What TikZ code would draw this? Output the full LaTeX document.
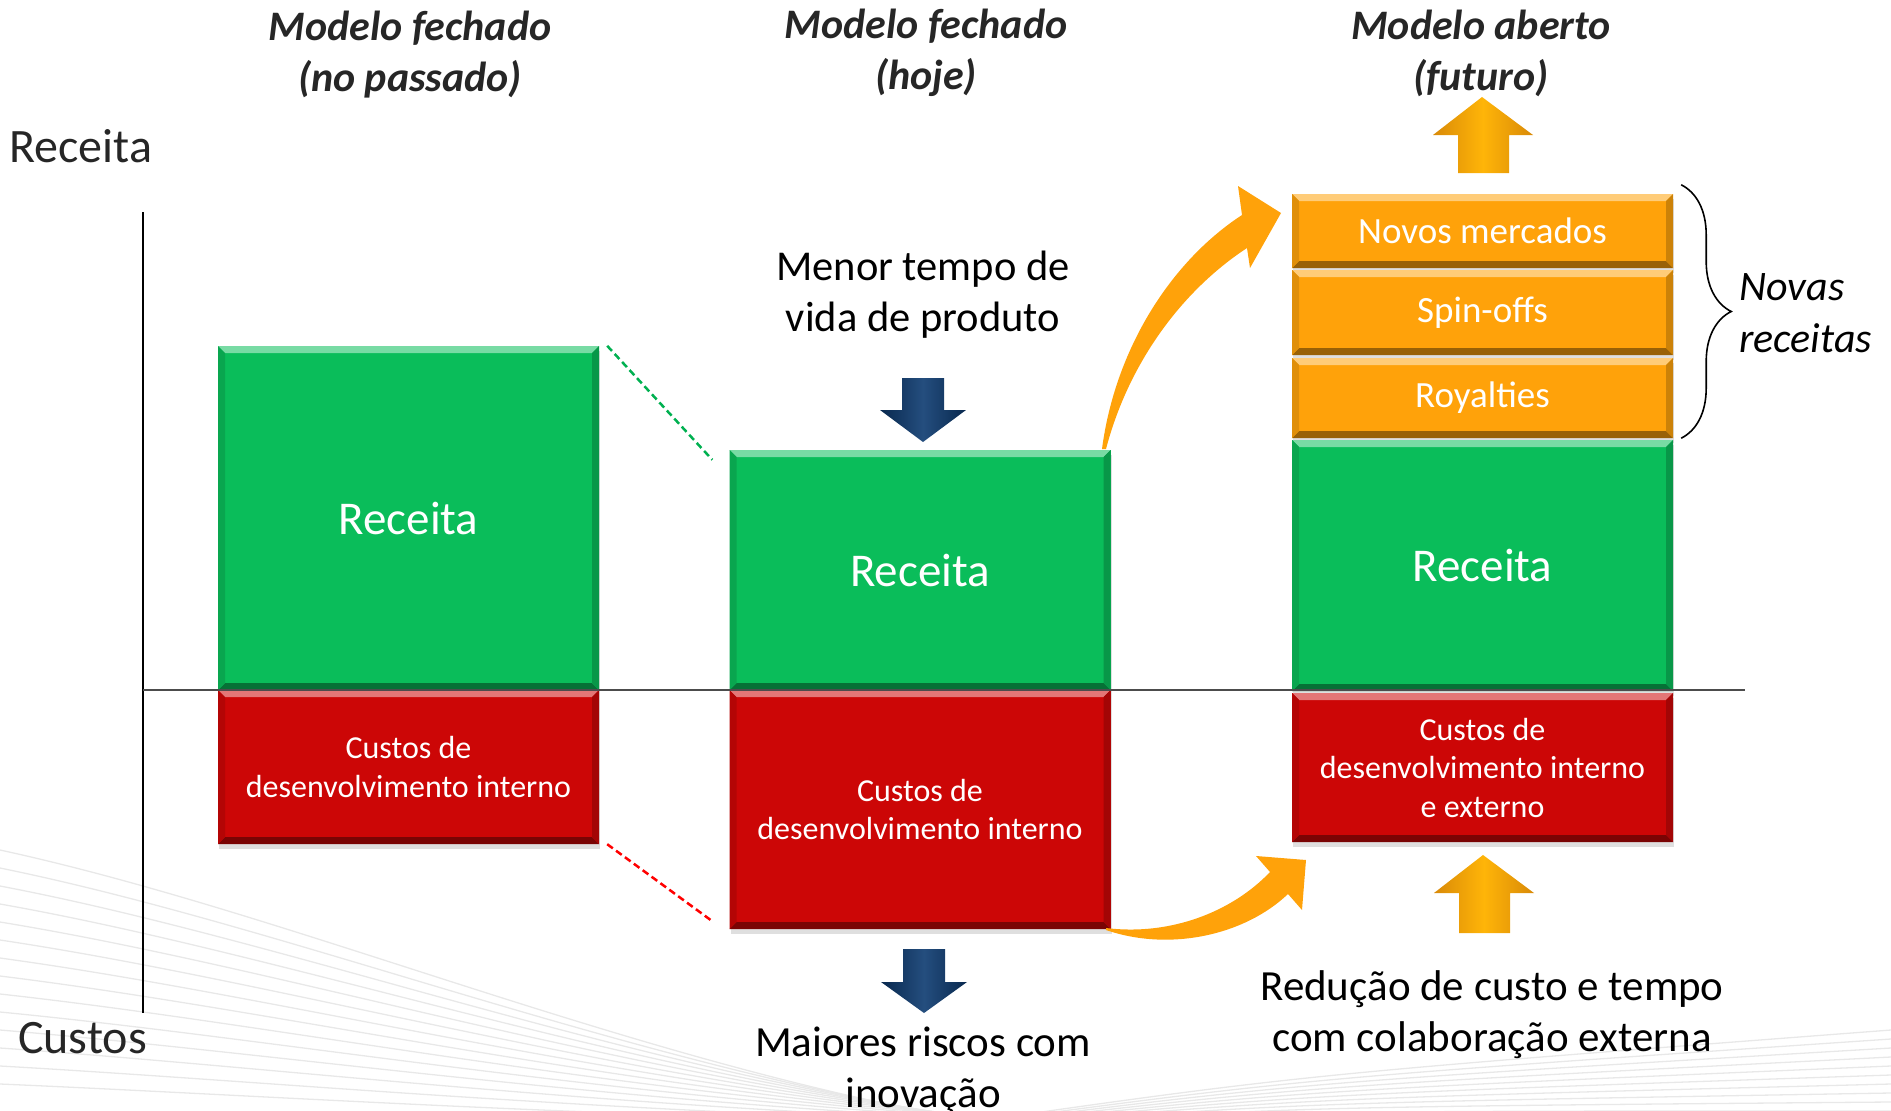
\documentclass[tikz,border=0pt]{standalone}
\usepackage{fontspec}
\setmainfont{Carlito}
\usetikzlibrary{shadows,decorations.pathreplacing}
\definecolor{gr}{HTML}{0ABD5A}
\definecolor{rd}{HTML}{CC0606}
\definecolor{og}{HTML}{FFA20A}
\definecolor{nv}{HTML}{0C3A70}
\definecolor{ttlc}{HTML}{262626}
\definecolor{dgreen}{HTML}{00B050}
\definecolor{dred}{HTML}{FF0000}
\tikzset{
  bev/.style={draw=none, inner sep=0pt, minimum width=381pt, align=center, text=white,
    fill=#1,
    drop shadow={shadow xshift=1pt, shadow yshift=-5pt, opacity=0.25},
    path picture={
      \fill[#1!55!white] (path picture bounding box.north west) -- (path picture bounding box.north east) -- ([xshift=-7pt,yshift=-7pt]path picture bounding box.north east) -- ([xshift=7pt,yshift=-7pt]path picture bounding box.north west) -- cycle;
      \fill[#1!60!black] (path picture bounding box.south west) -- (path picture bounding box.south east) -- ([xshift=-7pt,yshift=7pt]path picture bounding box.south east) -- ([xshift=7pt,yshift=7pt]path picture bounding box.south west) -- cycle;
      \fill[#1!88!black] (path picture bounding box.north west) -- ([xshift=7pt,yshift=-7pt]path picture bounding box.north west) -- ([xshift=7pt,yshift=7pt]path picture bounding box.south west) -- (path picture bounding box.south west) -- cycle;
      \fill[#1!80!black] (path picture bounding box.north east) -- ([xshift=-7pt,yshift=-7pt]path picture bounding box.north east) -- ([xshift=-7pt,yshift=7pt]path picture bounding box.south east) -- (path picture bounding box.south east) -- cycle;
    }},
  ttl/.style={align=center, text=ttlc, inner sep=0pt, font=\fontsize{42}{51}\selectfont\bfseries\itshape},
  lbl/.style={inner sep=0pt, text=ttlc, font=\fontsize{48}{56}\selectfont},
  txt/.style={align=center, inner sep=0pt, text=black, font=\fontsize{43}{51}\selectfont},
  bigw/.style={font=\fontsize{47}{56}\selectfont},
  redw/.style={font=\fontsize{32}{38.5}\selectfont},
  orw/.style={font=\fontsize{37}{44}\selectfont},
  dsh/.style={dash pattern=on 7pt off 4pt, line width=2.5pt},
  swoosh/.style={black!9, line width=1.3pt},
  navyarr/.style={left color=nv!70!black, right color=nv!70!black, middle color=nv!90!white},
  orarr/.style={left color=og!85!black, right color=og!85!black, middle color=og!80!yellow},
}
\begin{document}
\begin{tikzpicture}[x=1pt,y=-1pt]
\useasboundingbox (0,0) rectangle (1891,1111);
% background swooshes
\begin{scope}
\clip (0,0) rectangle (1891,1111);
\foreach \i in {0,...,13} {
  \draw[swoosh] (0,{850+\i*18}) .. controls (300,{915+\i*14}) and (650,{1070+\i*4}) .. ({1000+\i*12},1125);
}
\foreach \i in {0,...,9} {
  \draw[swoosh] ({950+\i*8},1125) .. controls (1300,{1075+\i*4}) .. (1891,{1030+\i*9});
}
\end{scope}

% titles
\node[ttl] (t1) at (410,55) {Modelo fechado\\(no passado)};
\node[ttl] (t2) at (926,53) {Modelo fechado\\(hoje)};
\node[ttl] (t3) at (1481,53) {Modelo aberto\\(futuro)};

% axis labels
\node[lbl, anchor=west] (ry) at (9,146) {Receita};
\node[lbl, anchor=west] (cx) at (18,1038) {Custos};

% axis
\coordinate (axT) at (143,212);
\coordinate (axB) at (143,1013);
\coordinate (axL) at (143,690);
\coordinate (axR) at (1745,690);
\draw[line width=2pt, black] (axT) -- (axB);

% boxes
\node[bev=gr, bigw, minimum height=344pt] (g1) at (408.5,518) {Receita};
\node[bev=rd, redw, minimum height=154pt] (r1) at (408.5,767) {Custos de\\desenvolvimento interno};
\node[bev=gr, bigw, minimum height=240pt] (g2) at (920,570) {Receita};
\node[bev=rd, redw, minimum height=239pt] (r2) at (920,809.5) {Custos de\\desenvolvimento interno};
\node[bev=og, orw, minimum height=74pt] (o1) at (1482.5,231) {Novos mercados};
\node[bev=og, orw, minimum height=85pt] (o2) at (1482.5,312.5) {Spin-offs};
\node[bev=og, orw, minimum height=80pt] (o3) at (1482.5,398) {Royalties};
\node[bev=gr, bigw, minimum height=251pt] (g3) at (1482.5,565.5) {Receita};
\node[bev=rd, redw, minimum height=149pt] (r3) at (1482.5,767.5) {Custos de\\desenvolvimento interno\\e externo};

\draw[line width=2pt, black!70] (axL) -- (axR);

% dashed connectors
\draw[dsh, dgreen] ([xshift=8pt]g1.north east) -- ([xshift=-17pt,yshift=-10pt]g2.north west);
\draw[dsh, dred] ([xshift=8pt]r1.south east) -- ([xshift=-17pt,yshift=8pt]r2.south west);

% navy arrows
\shade[navyarr]
  (902,378) -- (944,378) -- (944,410) -- (966,410) -- (923,442) -- (880,410) -- (902,410) -- cycle;
\shade[navyarr]
  (903,949) -- (945,949) -- (945,982) -- (967,982) -- (924,1013) -- (881,982) -- (903,982) -- cycle;

% orange up arrows
\shade[orarr]
  (1458,173) -- (1458,135) -- (1433,135) -- (1482,97) -- (1533,135) -- (1509,135) -- (1509,173) -- cycle;
\shade[orarr]
  (1459,933) -- (1459,893) -- (1434,893) -- (1483,855) -- (1534,893) -- (1510,893) -- (1510,933) -- cycle;

% curved arrows
\fill[og] (1102,449) .. controls (1115,350) and (1170,262) .. (1242,215) -- (1238,186) -- (1281,213) -- (1250,268) -- (1247,248) .. controls (1180,292) and (1128,365) .. (1106,449) -- cycle;
\fill[og] (1106,928) .. controls (1170,936) and (1232,912) .. (1270,872) -- (1256,856) -- (1306,860) -- (1302,910) -- (1288,894) .. controls (1245,935) and (1170,952) .. (1106,930) -- cycle;

% brace
\draw[decorate, decoration={brace, amplitude=50pt, aspect=0.5}, line width=1.6pt]
  ([xshift=8pt,yshift=9pt]o1.north east) -- ([xshift=8pt]o3.south east);
\node[anchor=west, align=left, inner sep=0pt, font=\fontsize{42}{52}\selectfont\itshape] (nr) at (1739,313) {Novas\\receitas};

% texts
\node[txt, font=\fontsize{42.5}{51}\selectfont] (mt) at (923,295) {Menor tempo de\\vida de produto};
\node[txt] (mr) at (923,1071) {Maiores riscos com\\inovação};
\node[txt] (rc) at (1492,1015) {Redução de custo e tempo\\com colaboração externa};
\end{tikzpicture}
\end{document}
